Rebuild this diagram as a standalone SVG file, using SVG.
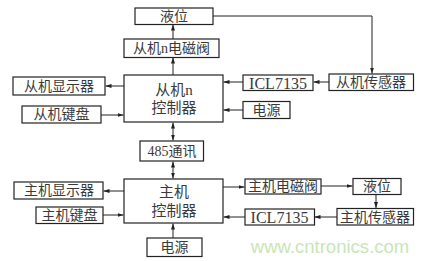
<svg xmlns="http://www.w3.org/2000/svg" width="432" height="261" viewBox="0 0 432 261">
<style>
.box{fill:#fff;stroke:#222;stroke-width:1.2}
.t{font-family:"Liberation Serif","Noto Sans CJK SC",serif;font-size:14px;fill:#3a3a3a;text-anchor:middle;dominant-baseline:central}
.c{stroke:#222;stroke-width:1;fill:none}
.wm{font-family:"Liberation Sans","DejaVu Sans",sans-serif;font-size:18.5px;fill:#c8e6b4;text-anchor:middle;dominant-baseline:central}
</style>
<defs>
<marker id="a" viewBox="0 0 6 4" refX="6" refY="2" markerWidth="6" markerHeight="4" markerUnits="userSpaceOnUse" orient="auto-start-reverse">
<path d="M0,0 L6,2 L0,4 Z" fill="#222"/>
</marker>
</defs>
<rect width="432" height="261" fill="#fff"/>
<g id="connectors">
<line class="c" x1="173" y1="39" x2="173" y2="24.5" marker-end="url(#a)"/>
<line class="c" x1="173" y1="75" x2="173" y2="57.5" marker-end="url(#a)"/>
<line class="c" x1="124" y1="86" x2="105.5" y2="86" marker-end="url(#a)"/>
<line class="c" x1="101" y1="115" x2="123.5" y2="115" marker-end="url(#a)"/>
<polyline class="c" points="213,16 372,16 372,73.5" marker-end="url(#a)"/>
<line class="c" x1="329" y1="82" x2="313.5" y2="82" marker-end="url(#a)"/>
<line class="c" x1="243" y1="82" x2="223.5" y2="82" marker-end="url(#a)"/>
<line class="c" x1="243" y1="110" x2="223.5" y2="110" marker-end="url(#a)"/>
<line class="c" x1="173" y1="122.5" x2="173" y2="140.5" marker-start="url(#a)" marker-end="url(#a)"/>
<line class="c" x1="173" y1="161.5" x2="173" y2="178.5" marker-start="url(#a)" marker-end="url(#a)"/>
<line class="c" x1="124" y1="191" x2="103.5" y2="191" marker-end="url(#a)"/>
<line class="c" x1="103" y1="215" x2="123.5" y2="215" marker-end="url(#a)"/>
<line class="c" x1="173" y1="238" x2="173" y2="223.5" marker-end="url(#a)"/>
<line class="c" x1="223" y1="187" x2="244.5" y2="187" marker-end="url(#a)"/>
<line class="c" x1="321" y1="186" x2="352.5" y2="186" marker-end="url(#a)"/>
<line class="c" x1="376" y1="194" x2="376" y2="208" marker-end="url(#a)"/>
<line class="c" x1="337" y1="217" x2="314.5" y2="217" marker-end="url(#a)"/>
<line class="c" x1="245" y1="217" x2="223.5" y2="217" marker-end="url(#a)"/>
</g>
<g id="slave-level"><rect class="box" x="135" y="8" width="78" height="16.5"/><text class="t" x="174" y="16.5">液位</text></g>
<g id="slave-valve"><rect class="box" x="124" y="39" width="95" height="18.5"/><text class="t" x="171.5" y="48.5">从机n电磁阀</text></g>
<g id="slave-ctrl"><rect class="box" x="124" y="75" width="99" height="47"/><text class="t" x="174" y="89.5" style="font-size:15px">从机n</text><text class="t" x="174" y="107.5" style="font-size:15px">控制器</text></g>
<g id="slave-display"><rect class="box" x="13" y="77" width="92" height="18"/><text class="t" x="59" y="86">从机显示器</text></g>
<g id="slave-keyboard"><rect class="box" x="22" y="106" width="79" height="17"/><text class="t" x="61.5" y="114.5">从机键盘</text></g>
<g id="slave-icl"><rect class="box" x="243" y="75" width="70" height="15.5"/><text class="t" x="278" y="83" style="font-size:16px">ICL7135</text></g>
<g id="slave-sensor"><rect class="box" x="329" y="74" width="84.5" height="16.5"/><text class="t" x="371" y="82.5">从机传感器</text></g>
<g id="slave-power"><rect class="box" x="243" y="101.5" width="47" height="17"/><text class="t" x="266.5" y="110">电源</text></g>
<g id="comm"><rect class="box" x="140" y="141" width="63.5" height="20"/><text class="t" x="172" y="151">485通讯</text></g>
<g id="master-ctrl"><rect class="box" x="124" y="179" width="99" height="44"/><text class="t" x="174" y="191.5" style="font-size:15px">主机</text><text class="t" x="174" y="211" style="font-size:15px">控制器</text></g>
<g id="master-display"><rect class="box" x="14" y="182" width="89" height="17"/><text class="t" x="59" y="190.5">主机显示器</text></g>
<g id="master-keyboard"><rect class="box" x="36" y="207" width="67" height="16.5"/><text class="t" x="69.5" y="215">主机键盘</text></g>
<g id="master-power"><rect class="box" x="147" y="238" width="55" height="18.5"/><text class="t" x="174.5" y="247">电源</text></g>
<g id="master-valve"><rect class="box" x="245" y="179" width="76" height="15"/><text class="t" x="283" y="186.5">主机电磁阀</text></g>
<g id="master-level"><rect class="box" x="353" y="178.5" width="48" height="16"/><text class="t" x="377" y="186.5">液位</text></g>
<g id="master-sensor"><rect class="box" x="337" y="208.5" width="76.5" height="16.5"/><text class="t" x="375" y="217">主机传感器</text></g>
<g id="master-icl"><rect class="box" x="245" y="209" width="69.5" height="16"/><text class="t" x="279.5" y="217" style="font-size:16px">ICL7135</text></g>
<text class="wm" x="330" y="246">www.cntronics.com</text>
</svg>
